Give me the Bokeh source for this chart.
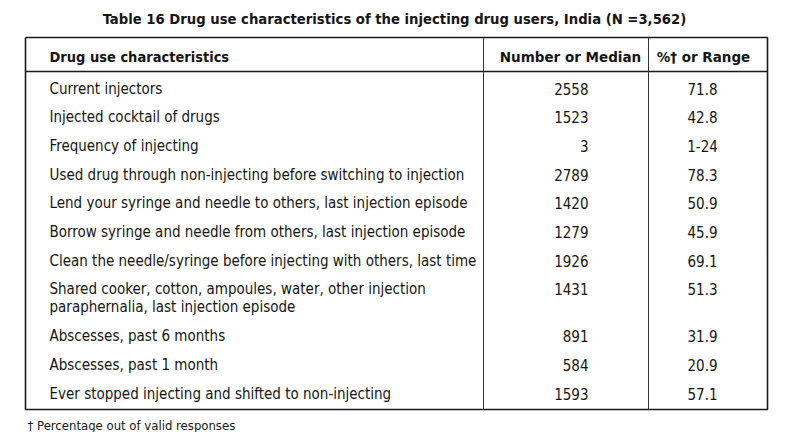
from bokeh.plotting import figure
from bokeh.models import Range1d, ColumnDataSource
from bokeh.core.properties import value
from bokeh.embed import file_html
from bokeh.resources import INLINE

title = "Table 16 Drug use characteristics of the injecting drug users, India (N =3,562)"
headers = ["Drug use characteristics", "Number or Median", "%\u2020 or Range"]
characteristics = [
    "Current injectors",
    "Injected cocktail of drugs",
    "Frequency of injecting",
    "Used drug through non-injecting before switching to injection",
    "Lend your syringe and needle to others, last injection episode",
    "Borrow syringe and needle from others, last injection episode",
    "Clean the needle/syringe before injecting with others, last time",
    "Shared cooker, cotton, ampoules, water, other injection\nparaphernalia, last injection episode",
    "Abscesses, past 6 months",
    "Abscesses, past 1 month",
    "Ever stopped injecting and shifted to non-injecting",
]
number_or_median = ["2558", "1523", "3", "2789", "1420", "1279", "1926", "1431", "891", "584", "1593"]
pct_or_range = ["71.8", "42.8", "1-24", "78.3", "50.9", "45.9", "69.1", "51.3", "31.9", "20.9", "57.1"]
footnote = "\u2020 Percentage out of valid responses"

W, H = 780, 432
p = figure(width=W, height=H, output_backend="svg", toolbar_location=None,
           x_range=Range1d(0, W), y_range=Range1d(H, 0),
           min_border=0, outline_line_color=None)
p.axis.visible = False
p.grid.visible = False
p.background_fill_color = "white"
p.border_fill_color = "white"

# layout (pixel coordinates)
L, R = 25, 767
C1, C2 = 483, 648
TOP, HEAD_BOT, BOT = 37, 71, 409
ROW0, ROW_H, LINE_H = 88, 28.7, 18

ys = []
y = ROW0
for lab in characteristics:
    ys.append(y)
    y += ROW_H + LINE_H * lab.count("\n")

ink = "#151515"
# frame
p.line([L, R, R, L, L], [TOP, TOP, BOT, BOT, TOP], line_color="#1a1a1a", line_width=1.6)
p.line([L, R], [HEAD_BOT, HEAD_BOT], line_color="#1a1a1a", line_width=1.3)
p.line([C1, C1], [TOP, BOT], line_color="#333333", line_width=1.0)
p.line([C2, C2], [TOP, BOT], line_color="#333333", line_width=1.0)

body_font = value("DejaVu Sans Condensed")

# title
p.text(x=[394], y=[18], text=[title], text_font=body_font,
       text_font_style="bold", text_font_size="14.7px", text_align="center",
       text_baseline="middle", text_color=ink)

# headers
p.text(x=[49], y=[56], text=[headers[0]], text_font=body_font, text_font_style="bold",
       text_font_size="14.5px", text_align="left", text_baseline="middle", text_color=ink)
p.text(x=[570, 703], y=[56, 56], text=headers[1:], text_font=value("DejaVu Sans"),
       text_font_style="bold", text_font_size="13.5px", text_align="center",
       text_baseline="middle", text_color=ink)

# body labels, one glyph per printed line
lx, ly, lt = [], [], []
for lab, yy in zip(characteristics, ys):
    for k, part in enumerate(lab.split("\n")):
        lx.append(49)
        ly.append(yy + k * LINE_H)
        lt.append(part)
p.text(x=lx, y=ly, text=lt, text_font=body_font, text_font_size="15px",
       text_align="left", text_baseline="middle", text_color=ink)

src = ColumnDataSource(dict(y=ys, n=number_or_median, pc=pct_or_range,
                            xn=[588] * len(ys), xp=[702] * len(ys)))
p.text(x="xn", y="y", text="n", source=src, text_font=body_font, text_font_size="15px",
       text_align="right", text_baseline="middle", text_color=ink)
p.text(x="xp", y="y", text="pc", source=src, text_font=body_font, text_font_size="15px",
       text_align="center", text_baseline="middle", text_color=ink)

# footnote
p.text(x=[27], y=[425], text=[footnote], text_font=body_font, text_font_size="13px",
       text_align="left", text_baseline="middle", text_color=ink)

open("out.html", "w").write(file_html(p, INLINE))
